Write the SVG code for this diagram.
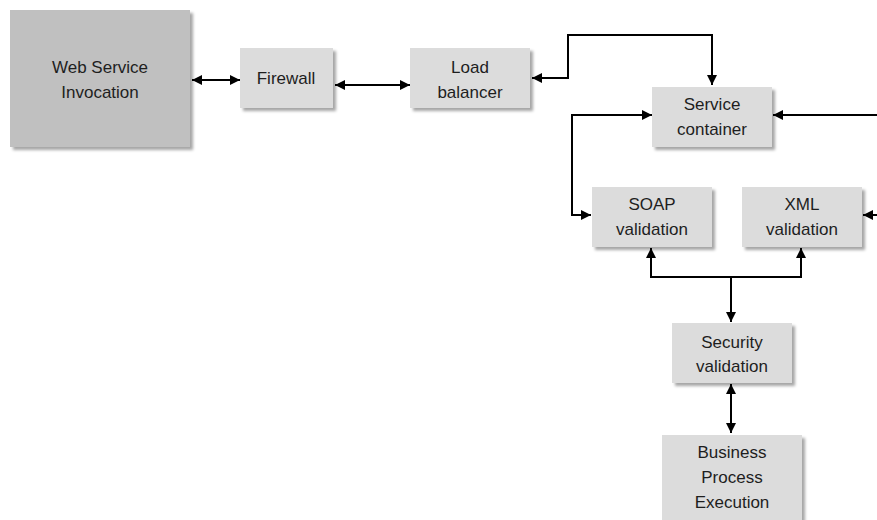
<svg xmlns="http://www.w3.org/2000/svg" width="877" height="520" viewBox="0 0 877 520">
<style>
.box{fill:#dcdcdc;filter:url(#sh)}
.dark{fill:#c0c0c0}
text{font-family:"Liberation Sans",Arial,sans-serif;font-size:17px;fill:#1e1e1e;text-anchor:middle}
.c{fill:none;stroke:#000;stroke-width:2}
</style>
<defs>
<filter id="sh" x="-10%" y="-10%" width="130%" height="130%">
<feDropShadow dx="3" dy="3" stdDeviation="1.5" flood-color="#000" flood-opacity="0.35"/>
</filter>
<marker id="a" viewBox="0 0 10 10" refX="10" refY="5" markerWidth="5" markerHeight="5" orient="auto-start-reverse" markerUnits="strokeWidth">
<path d="M0,0L10,5L0,10Z" fill="#000"/>
</marker>
</defs>
<rect width="877" height="520" fill="#fff"/>
<g id="connectors">
<path class="c" d="M192,80H240" marker-start="url(#a)" marker-end="url(#a)"/>
<path class="c" d="M335,85H410" marker-start="url(#a)" marker-end="url(#a)"/>
<path class="c" d="M532,78H568V35H712V85" marker-start="url(#a)" marker-end="url(#a)"/>
<path class="c" d="M877,115H773" marker-end="url(#a)"/>
<path class="c" d="M652,115H572V215H591" marker-start="url(#a)" marker-end="url(#a)"/>
<path class="c" d="M877,215H863" marker-end="url(#a)"/>
<path class="c" d="M651,248V277H801V248" marker-start="url(#a)" marker-end="url(#a)"/>
<path class="c" d="M731,277V322" marker-end="url(#a)"/>
<path class="c" d="M731,384V433" marker-start="url(#a)" marker-end="url(#a)"/>
</g>
<g id="web-service-invocation">
<rect class="box dark" x="10" y="10" width="180" height="137"/>
<text x="100" y="73">Web Service</text>
<text x="100" y="98">Invocation</text>
</g>
<g id="firewall">
<rect class="box" x="240" y="48" width="93" height="60"/>
<text x="286" y="84">Firewall</text>
</g>
<g id="load-balancer">
<rect class="box" x="410" y="48" width="120" height="60"/>
<text x="470" y="73">Load</text>
<text x="470" y="98">balancer</text>
</g>
<g id="service-container">
<rect class="box" x="652" y="87" width="120" height="60"/>
<text x="712" y="110">Service</text>
<text x="712" y="135">container</text>
</g>
<g id="soap-validation">
<rect class="box" x="592" y="187" width="120" height="60"/>
<text x="652" y="210">SOAP</text>
<text x="652" y="235">validation</text>
</g>
<g id="xml-validation">
<rect class="box" x="742" y="187" width="120" height="60"/>
<text x="802" y="210">XML</text>
<text x="802" y="235">validation</text>
</g>
<g id="security-validation">
<rect class="box" x="672" y="323" width="120" height="60"/>
<text x="732" y="348">Security</text>
<text x="732" y="372">validation</text>
</g>
<g id="business-process-execution">
<rect class="box" x="662" y="435" width="140" height="100"/>
<text x="732" y="458">Business</text>
<text x="732" y="483">Process</text>
<text x="732" y="508">Execution</text>
</g>
</svg>
